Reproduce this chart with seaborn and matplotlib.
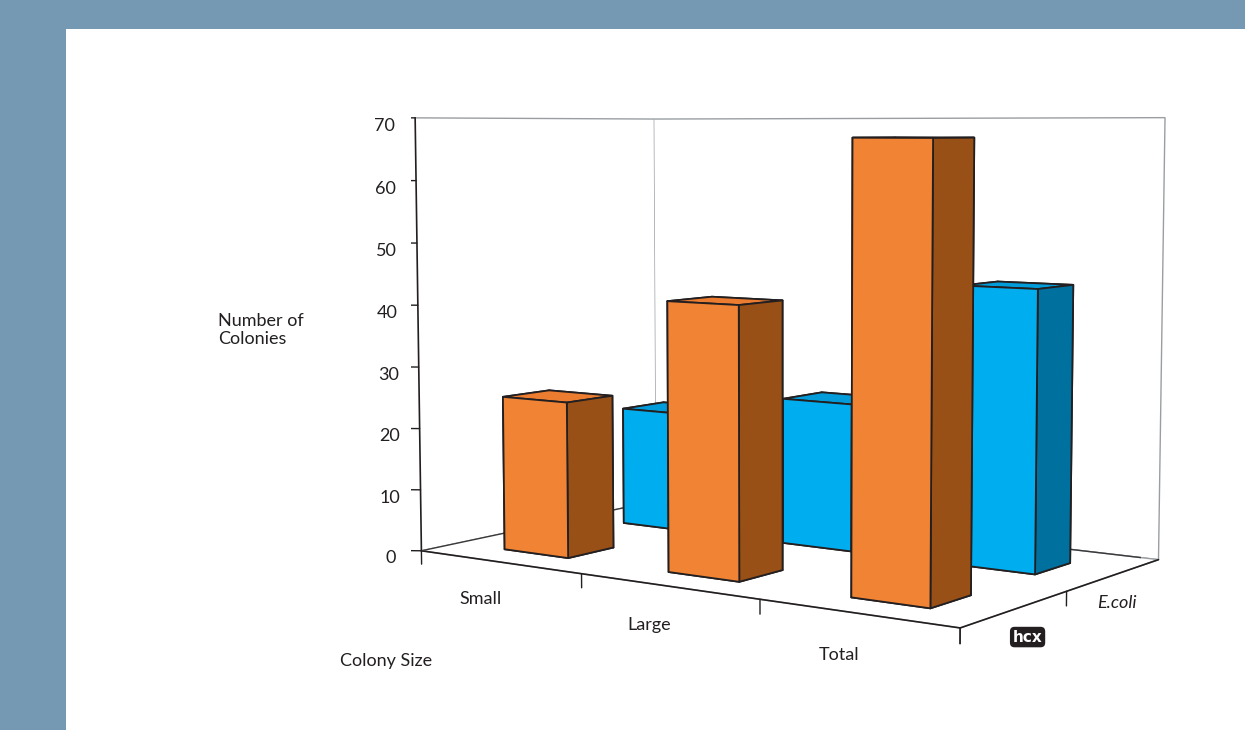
import numpy as np
import matplotlib
matplotlib.use("Agg")
import matplotlib.pyplot as plt
from matplotlib.patches import Rectangle
import seaborn as sns

# Colony counts per colony-size category for each strain
categories = ["Small", "Large", "Total"]
series = ["hcx", "E.coli"]
hcx_counts = [25, 42, 67]
ecoli_counts = [20, 24, 44]
z_ticks = [0, 10, 20, 30, 40, 50, 60, 70]

sns.set_theme(style="white")
plt.rcParams["font.family"] = ["Lato", "DejaVu Sans"]

face_light = {"hcx": "#F08334", "E.coli": "#00AEEF"}
face_top = {"hcx": "#EC7D30", "E.coli": "#039CDA"}
face_dark = {"hcx": "#985016", "E.coli": "#00709E"}
ink = "#231F20"
wall = "#9A9EA2"

fig = plt.figure(figsize=(12.45, 7.30), dpi=100)
fig.patch.set_facecolor("white")
band = "#7599B3"
fig.patches.append(Rectangle((0, 1 - 29 / 730), 1, 29 / 730, transform=fig.transFigure,
                             facecolor=band, edgecolor="none", zorder=-10))
fig.patches.append(Rectangle((0, 0), 66 / 1245, 1, transform=fig.transFigure,
                             facecolor=band, edgecolor="none", zorder=-10))

zoom = 1.15
ax = fig.add_axes([0.2235, 0.023, 0.8, 1.0], projection="3d")
ax.set_proj_type("persp", focal_length=0.51 * zoom)
ax.view_init(elev=5.2, azim=-55)
ax.set_box_aspect((1.45, 0.88, 1.0), zoom=zoom)
ax.set_facecolor("none")

# Build one collection so faces are depth-sorted together
dx, dy = 0.40, 0.37
xs, ys, zs, dxs, dys, dzs, cols = [], [], [], [], [], [], []
for j, (name, vals) in enumerate(zip(series, [hcx_counts, ecoli_counts])):
    for i, v in enumerate(vals):
        xs.append(i + 0.5 - dx / 2)
        ys.append(j + 0.47 - dy / 2)
        zs.append(0)
        dxs.append(dx)
        dys.append(dy)
        dzs.append(v)
        # face order: -z, +z, -y, +y, -x, +x
        cols += [face_dark[name], face_top[name], face_light[name],
                 face_light[name], face_light[name], face_dark[name]]
ax.bar3d(xs, ys, zs, dxs, dys, dzs, color=cols, shade=False,
         edgecolor=ink, linewidth=1.3)

ax.set_xlim(0, 3)
ax.set_ylim(0, 2)
ax.set_zlim(0, 70)
ax.set_xticks([])
ax.set_yticks([])
ax.set_zticks(z_ticks)
ax.set_zticklabels([str(t) for t in z_ticks], fontsize=13, color=ink)
ax.grid(False)
ax.zaxis._axinfo["juggled"] = (1, 2, 0)
for axis in (ax.xaxis, ax.yaxis, ax.zaxis):
    axis.set_pane_color((1.0, 1.0, 1.0, 1.0))
    axis.pane.set_edgecolor(wall)
    axis.pane.set_linewidth(1.0)
    axis.line.set_color(ink)
    axis.line.set_linewidth(1.2)
    axis.set_label_text("")
    axis.offsetText.set_visible(False)
    axis._axinfo["tick"]["inward_factor"] = 0.0
    axis._axinfo["tick"]["outward_factor"] = 0.0

# Back edges of the floor
n_cat, n_ser = len(categories), len(series)
ax.plot([0, 0, n_cat], [0, n_ser, n_ser], [0, 0, 0], color="#3A3A3C", lw=1.0, zorder=0)

# Tick marks: vertical stubs on the floor axes, horizontal stubs on the value axis
stub = 2.2
for xb in range(n_cat + 1):
    ax.plot([xb, xb], [0, 0], [0, -stub], color=ink, lw=1.0)
for yb in range(n_ser + 1):
    ax.plot([n_cat] * 2, [yb, yb], [0, -stub], color=ink, lw=1.0)
for t in z_ticks:
    ax.plot([0, -0.075], [0, -0.05], [t, t], color=ink, lw=1.0)

for i, c in enumerate(categories):
    ax.text(i + 0.48, -0.12, -5.4, c, fontsize=13, ha="center", va="center", color=ink)
ax.text(n_cat + 0.1, 0.42, -3.2, series[0], fontsize=11, fontweight="bold", color="white",
        family="DejaVu Sans", ha="center", va="center",
        bbox=dict(boxstyle="round,pad=0.18,rounding_size=0.3", facecolor=ink,
                  edgecolor="none"))
ax.text(n_cat + 0.04, 1.45, -4.0, series[1], fontsize=13, style="italic", ha="center",
        va="center", color=ink)

fig.text(218 / 1245, 1 - 330 / 730, "Number of\nColonies", fontsize=13, ha="left",
         va="center", color=ink, linespacing=1.1)
fig.text(340 / 1245, 1 - 661 / 730, "Colony Size", fontsize=13, ha="left",
         va="center", color=ink)

fig.savefig("out.png", dpi=100)
